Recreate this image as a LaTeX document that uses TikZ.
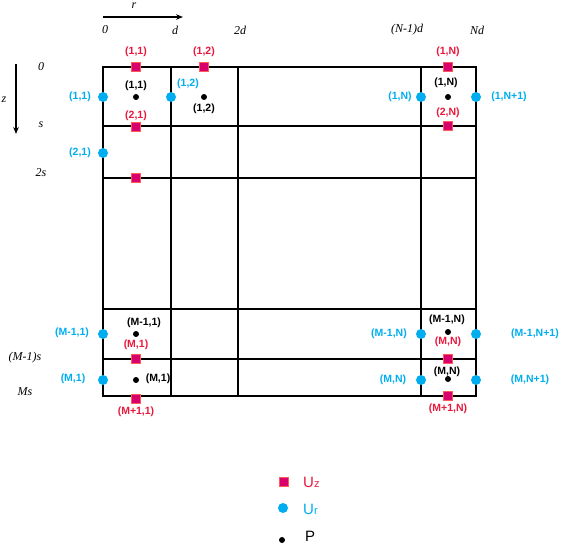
\documentclass[tikz,border=0pt]{standalone}
\usepackage{fontspec}
\setmainfont{Liberation Sans}
\newfontfamily\axisfont{Liberation Serif}
\usetikzlibrary{positioning,arrows.meta}
\definecolor{uzred}{HTML}{E8193C}
\definecolor{uzfill}{HTML}{D9006C}
\definecolor{uzedge}{HTML}{FF5A5A}
\definecolor{urblue}{HTML}{00AEEF}
\tikzset{
  gridline/.style={line width=1.4pt,line cap=rect},
  uzmark/.style={draw=uzedge,fill=uzfill,line width=0.9pt,minimum size=8.5pt,inner sep=0pt},
  urmark/.style={circle,fill=urblue,minimum size=10pt,inner sep=0pt},
  pmark/.style={circle,fill=black,minimum size=6pt,inner sep=0pt},
  idxlab/.style={font=\bfseries\fontsize{10.5}{11}\selectfont,inner sep=0.5pt},
  uzlab/.style={idxlab,text=uzred},
  urlab/.style={idxlab,text=urblue},
  plab/.style={idxlab,text=black},
  axlab/.style={font=\axisfont\itshape\fontsize{12}{12}\selectfont,inner sep=0pt},
  leglab/.style={font=\fontsize{15}{15}\selectfont,inner sep=0pt,anchor=base west}
}
\begin{document}
\begin{tikzpicture}[x=1pt,y=-1pt,line join=miter]
\path[use as bounding box] (0,0) rectangle (562,548);
% Axes and their ticks.
\coordinate (r-start) at (103,17);
\coordinate (r-end) at (183,17);
\coordinate (z-start) at (16,64);
\coordinate (z-end) at (16,134);
\draw[line width=1.2pt,-{Stealth[length=7pt,width=5.5pt]}] (r-start) -- (r-end);
\draw[line width=1.2pt,-{Stealth[length=7pt,width=5.5pt]}] (z-start) -- (z-end);
\node[axlab] (r-lab) at (134,6) {r};
\node[axlab] (z-lab) at (4,100) {z};
\node[axlab] (tick-r0) at (105,30) {0};
\node[axlab] (tick-r1) at (175,30) {d};
\node[axlab] (tick-r2) at (240,30) {2d};
\node[axlab] (tick-rN1) at (407,30) {(N-1)d};
\node[axlab] (tick-rN) at (477,30) {Nd};
\node[axlab] (tick-z0) at (41,67) {0};
\node[axlab] (tick-z1) at (41,125) {s};
\node[axlab] (tick-z2) at (41,173) {2s};
\node[axlab] (tick-zM1) at (25,358) {(M-1)s};
\node[axlab] (tick-zM) at (25,392) {Ms};
% Grid of cells.
\draw[gridline] (103,67) rectangle (476,396);
\draw[gridline] (171,67) -- (171,396);
\draw[gridline] (238,67) -- (238,396);
\draw[gridline] (421,67) -- (421,396);
\draw[gridline] (103,126) -- (476,126);
\draw[gridline] (103,178) -- (476,178);
\draw[gridline] (103,309) -- (476,309);
\draw[gridline] (103,359) -- (476,359);
% Axial velocity u_z on horizontal faces.
\node[uzmark] (uz-1-1) at (136,67) {};
\node[uzmark] (uz-1-2) at (204,67) {};
\node[uzmark] (uz-2-1) at (136,127) {};
\node[uzmark] (uz-3-1) at (136,178) {};
\node[uzmark] (uz-1-N) at (448,67) {};
\node[uzmark] (uz-2-N) at (448,126) {};
\node[uzmark] (uz-M-1) at (136,359) {};
\node[uzmark] (uz-M1-1) at (136,399) {};
\node[uzmark] (uz-M-N) at (448,359) {};
\node[uzmark] (uz-M1-N) at (448,396) {};
\node[uzlab] (uzl-1-1) at (136,52) {(1,1)};
\node[uzlab] (uzl-1-2) at (204,52) {(1,2)};
\node[uzlab] (uzl-2-1) at (136,116) {(2,1)};
\node[uzlab] (uzl-1-N) at (448,52) {(1,N)};
\node[uzlab] (uzl-2-N) at (448,113) {(2,N)};
\node[uzlab] (uzl-M-1) at (136,345) {(M,1)};
\node[uzlab] (uzl-M1-1) at (136,412) {(M+1,1)};
\node[uzlab] (uzl-M-N) at (448,342) {(M,N)};
\node[uzlab] (uzl-M1-N) at (448,409) {(M+1,N)};
% Radial velocity u_r on vertical faces.
\node[urmark] (ur-1-1) at (103,97) {};
\node[urmark] (ur-1-2) at (171,97) {};
\node[urmark] (ur-2-1) at (103,153) {};
\node[urmark] (ur-1-N) at (421,97) {};
\node[urmark] (ur-1-N1) at (476,97) {};
\node[urmark] (ur-M1-1) at (103,334) {};
\node[urmark] (ur-M-1) at (103,380) {};
\node[urmark] (ur-M1-N) at (421,334) {};
\node[urmark] (ur-M1-N1) at (476,334) {};
\node[urmark] (ur-M-N) at (421,380) {};
\node[urmark] (ur-M-N1) at (476,380) {};
\node[urlab] (url-1-1) at (80,97) {(1,1)};
\node[urlab] (url-1-2) at (188,84) {(1,2)};
\node[urlab] (url-2-1) at (80,153) {(2,1)};
\node[urlab] (url-1-N) at (400,97) {(1,N)};
\node[urlab] (url-1-N1) at (509,97) {(1,N+1)};
\node[urlab] (url-M1-1) at (72,333) {(M-1,1)};
\node[urlab] (url-M-1) at (73,379) {(M,1)};
\node[urlab] (url-M1-N) at (389,334) {(M-1,N)};
\node[urlab] (url-M1-N1) at (535,334) {(M-1,N+1)};
\node[urlab] (url-M-N) at (393,380) {(M,N)};
\node[urlab] (url-M-N1) at (530,380) {(M,N+1)};
% Pressure p at cell centres.
\node[pmark] (p-1-1) at (136,97) {};
\node[pmark] (p-1-2) at (204,97) {};
\node[pmark] (p-1-N) at (448,97) {};
\node[pmark] (p-M1-1) at (136,334) {};
\node[pmark] (p-M-1) at (136,380) {};
\node[pmark] (p-M1-N) at (448,332) {};
\node[pmark] (p-M-N) at (448,379) {};
\node[plab] (pl-1-1) at (136,86) {(1,1)};
\node[plab] (pl-1-2) at (204,109) {(1,2)};
\node[plab] (pl-1-N) at (446,83) {(1,N)};
\node[plab] (pl-M1-1) at (144,323) {(M-1,1)};
\node[plab] (pl-M-1) at (158,379) {(M,1)};
\node[plab] (pl-M1-N) at (447,320) {(M-1,N)};
\node[plab] (pl-M-N) at (447,372) {(M,N)};
% Legend.
\node[uzmark] (leg-uz) at (284,482) {};
\node[urmark] (leg-ur) at (283,508) {};
\node[pmark] (leg-p) at (282,540) {};
\node[leglab,text=uzred] (leg-uz-lab) at (303,487) {U{\fontsize{11}{11}\selectfont z}};
\node[leglab,text=urblue] (leg-ur-lab) at (303,514) {U{\fontsize{11}{11}\selectfont r}};
\node[leglab,text=black] (leg-p-lab) at (305,541) {P};
\end{tikzpicture}
\end{document}
